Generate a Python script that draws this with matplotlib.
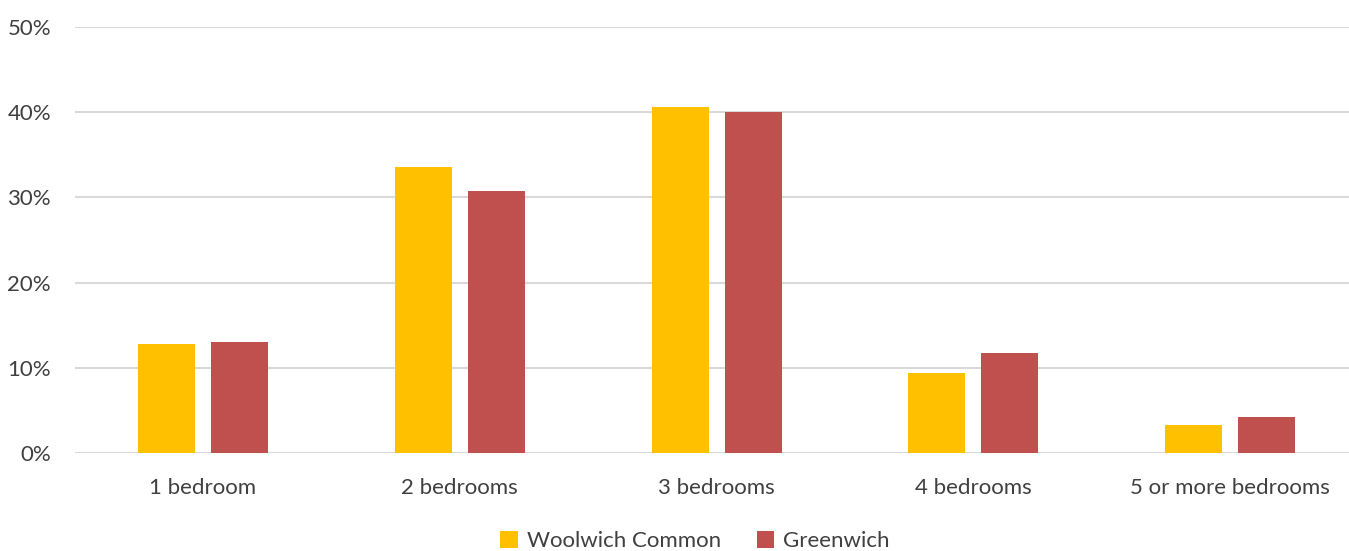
import matplotlib
matplotlib.use("Agg")
import matplotlib.pyplot as plt
import numpy as np

categories = ["1 bedroom", "2 bedrooms", "3 bedrooms", "4 bedrooms", "5 or more bedrooms"]
woolwich = [12.8, 33.6, 40.6, 9.4, 3.3]
greenwich = [13.0, 30.8, 40.0, 11.8, 4.2]
series_names = ["Woolwich Common", "Greenwich"]
yticks = [0, 10, 20, 30, 40, 50]

W, H = 1349, 551
fig = plt.figure(figsize=(W / 100, H / 100), dpi=100)
plt.rcParams['font.family'] = ['Lato', 'DejaVu Sans']
text_color = "#404040"

left = 74.6 / W
width = 1284 / W
bottom = (H - 453.3) / H
height = (453.3 - 26.7) / H
ax = fig.add_axes([left, bottom, width, height])

x = np.arange(len(categories))
bw = 0.222
off = 0.142
ax.bar(x - off, woolwich, bw, color="#FFC000", label=series_names[0], zorder=3)
ax.bar(x + off, greenwich, bw, color="#C0504D", label=series_names[1], zorder=3)

ax.set_xlim(-0.5, len(categories) - 0.5)
ax.set_ylim(0, 50)
ax.set_yticks(yticks)
ax.set_yticklabels([f"{v}%" for v in yticks])
ax.set_xticks(x)
ax.set_xticklabels(categories)
ax.yaxis.grid(True, color="#D9D9D9", linewidth=1.5, zorder=0)
ax.set_axisbelow(True)
for s in ax.spines.values():
    s.set_visible(False)
ax.tick_params(axis='both', length=0, labelsize=16, labelcolor=text_color)
ax.tick_params(axis='y', pad=17)
ax.tick_params(axis='x', pad=18)

leg = fig.legend(loc="center", bbox_to_anchor=(695 / W, 1 - 541 / H), ncol=2,
                 frameon=False, fontsize=16, handlelength=0.8, handleheight=0.8,
                 handletextpad=0.4, columnspacing=1.6, labelcolor=text_color)

fig.savefig("out.png", dpi=100)
